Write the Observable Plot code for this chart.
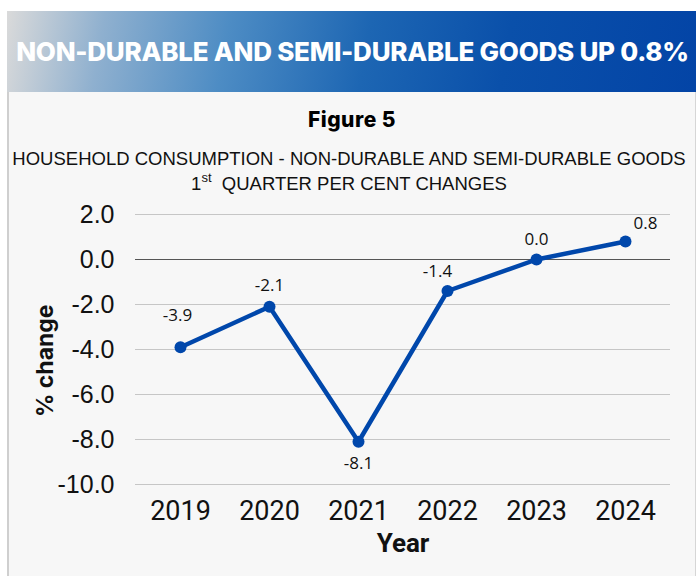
<!DOCTYPE html>
<html><head><meta charset="utf-8">
<script src="https://cdn.jsdelivr.net/npm/d3@7"></script>
<script src="https://cdn.jsdelivr.net/npm/@observablehq/plot@0.6"></script>
<style>
html,body{margin:0;padding:0;background:#fff;}
#wrap{position:relative;width:696px;height:576px;overflow:hidden;background:#fff;}
#banner{position:absolute;left:7px;top:11px;width:689px;height:81px;
 background:linear-gradient(100deg,#dadada 0%,#8fb0cf 14%,#4d8cc4 32%,#1d66b3 52%,#0a50aa 72%,#0344a6 100%);}
#banner div{position:absolute;left:0;right:0;top:25px;text-align:center;color:#fff;padding-left:2px;
 font-family:Inter,"Open Sans",sans-serif;font-weight:800;font-size:26px;letter-spacing:-0.25px;white-space:nowrap;}
#panel{position:absolute;left:7px;top:92px;width:686px;height:490px;background:#f7f7f7;
 border-left:2px solid #cfcfcf;border-right:1px solid #d6d6d6;}
#fig{position:absolute;left:0;width:696px;top:107px;text-align:center;font-family:Inter,"Open Sans",sans-serif;font-weight:800;font-size:21px;letter-spacing:0.5px;color:#000;padding-left:8px;box-sizing:border-box;}
#sub{position:absolute;left:0;width:696px;top:146px;text-align:center;font-family:"Liberation Sans",Arial,sans-serif;font-size:18.5px;line-height:25px;color:#111;padding-left:2px;box-sizing:border-box;white-space:nowrap;}
#sub sup{font-size:13px;vertical-align:8px;line-height:0;}
#chart{position:absolute;left:0;top:195px;}
</style></head>
<body><div id="wrap">
<div id="banner"><div>NON-DURABLE AND SEMI-DURABLE GOODS UP 0.8%</div></div>
<div id="panel"></div>
<div id="fig">Figure 5</div>
<div id="sub">HOUSEHOLD CONSUMPTION - NON-DURABLE AND SEMI-DURABLE GOODS<br>1<sup>st</sup>&nbsp; QUARTER PER CENT CHANGES</div>
<div id="chart"></div>
</div>
<script>
const years = ["2019","2020","2021","2022","2023","2024"];
const values = [-3.9, -2.1, -8.1, -1.4, 0.0, 0.8];
const yTicks = [2, 0, -2, -4, -6, -8, -10];

const data = years.map((y, i) => ({year: y, value: values[i]}));
// label offsets (style)
const ldx = [-3, 0, 0, -10, 0, 20];
const ldy = [-32, -21, 22, -19, -20, -18];
const lab = data.map((d, i) => ({...d, dx: ldx[i], dy: ldy[i]}));

const blue = "#0047ab";
const chart = Plot.plot({
  width: 696, height: 381,
  marginTop: 19, marginBottom: 92, marginLeft: 135, marginRight: 26,
  style: {background: "transparent", overflow: "visible"},
  x: {type: "point", domain: years, padding: 0.5, label: null},
  y: {domain: [-10, 2], label: null},
  marks: [
    Plot.ruleY(yTicks.filter(t => t !== 0), {stroke: "#c6c6c6", strokeWidth: 1}),
    Plot.ruleY([0], {stroke: "#555", strokeWidth: 1}),
    Plot.axisY(yTicks, {tickSize: 0, tickPadding: 21, tickFormat: d => d.toFixed(1), fontSize: 25, fontFamily: "'Liberation Sans', Arial, sans-serif", fill: "#111", label: null}),
    Plot.axisX({tickSize: 0, tickPadding: 16, fontSize: 27, fontFamily: "Roboto, sans-serif", fill: "#111", label: null}),
    Plot.lineY(data, {x: "year", y: "value", stroke: blue, strokeWidth: 4.5}),
    Plot.dot(data, {x: "year", y: "value", fill: blue, r: 6}),
    ...lab.map(d => Plot.text([d], {x: "year", y: "value", text: d => d.value.toFixed(1), dx: d.dx, dy: d.dy, fontSize: 17, fontFamily: "'Open Sans', sans-serif", fill: "#111"})),
    Plot.text(["Year"], {frameAnchor: "bottom", dy: 67, text: d => d, fontSize: 26, fontWeight: "bold", fontFamily: "Roboto, sans-serif", fill: "#111"}),
    Plot.text([-4.5], {y: d => d, frameAnchor: "left", textAnchor: "middle", dx: -90, rotate: -90, text: () => "% change", fontSize: 23, fontWeight: "bold", fontFamily: "Inter, sans-serif", fill: "#111"})
  ]
});
document.getElementById("chart").appendChild(chart);
</script>
</body></html>
